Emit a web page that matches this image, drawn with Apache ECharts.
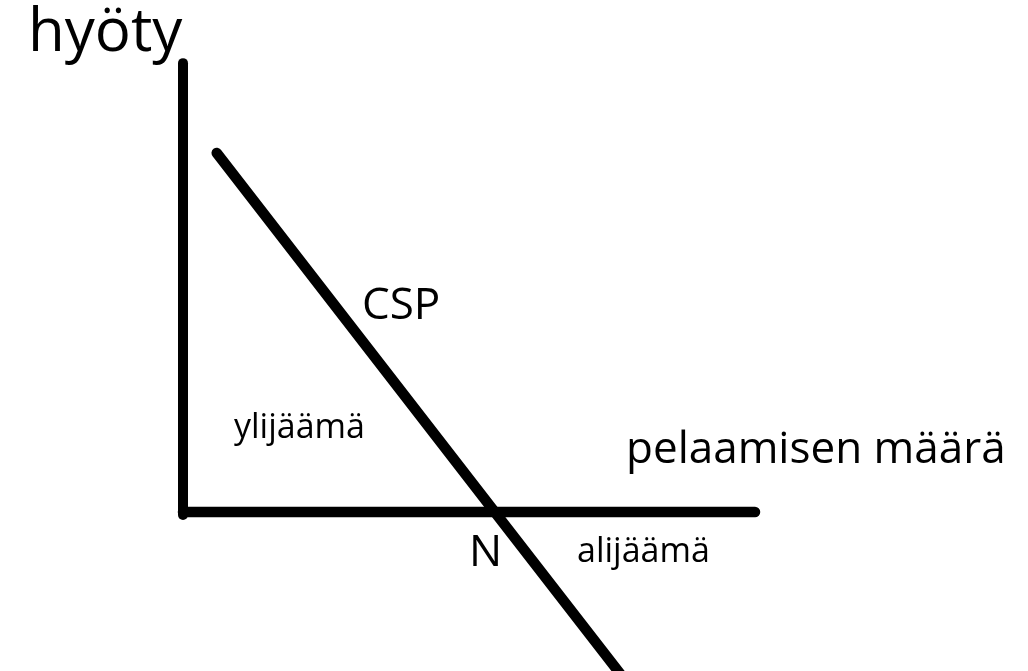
<!DOCTYPE html>
<html>
<head>
<meta charset="utf-8">
<script src="https://cdn.jsdelivr.net/npm/echarts@6/dist/echarts.min.js"></script>
<style>
html,body{margin:0;padding:0;background:#fff;}
#chart{width:1028px;height:671px;}
</style>
</head>
<body>
<div id="chart"></div>
<script>
// Diagram data (abstract units: quantity of gaming vs. utility)
const yAxisLineX = [0, 0];
const yAxisLineY = [7.85, -0.05];
const xAxisLineX = [0, 10];
const xAxisLineY = [0, 0];
const cspX = [0.59, 5.45, 7.66];
const cspY = [6.28, 0, -2.85];
const labels = ['hyöty', 'pelaamisen määrä', 'CSP', 'ylijäämä', 'N', 'alijäämä'];

function pairs(xs, ys){ return xs.map((x,i)=>[x, ys[i]]); }

const chart = echarts.init(document.getElementById('chart'), null, {renderer:'canvas'});
const FONT = '"Open Sans", "Noto Sans", sans-serif';
const lineSeries = (data, w) => ({
  type:'line', data, symbol:'none', clip:false, silent:true, animation:false,
  lineStyle:{color:'#000', width:w, cap:'round', join:'round'}
});
chart.setOption({
  backgroundColor:'#fff',
  animation:false,
  grid:{left:183, right:273, top:58, bottom:0, containLabel:false},
  xAxis:{type:'value', min:0, max:10, show:false},
  yAxis:{type:'value', min:-2.78, max:7.94, show:false},
  series:[
    lineSeries(pairs(yAxisLineX, yAxisLineY), 10),
    lineSeries(pairs(xAxisLineX, xAxisLineY), 10.5),
    lineSeries(pairs(cspX, cspY), 10.5)
  ],
  graphic:[
    {type:'text', x:28, y:34, style:{text:labels[0], font:'60px '+FONT, fill:'#000', verticalAlign:'middle', align:'left'}},
    {type:'text', x:626, y:450, style:{text:labels[1], font:'44px '+FONT, fill:'#000', verticalAlign:'middle', align:'left'}},
    {type:'text', x:362, y:306, style:{text:labels[2], font:'44px '+FONT, fill:'#000', verticalAlign:'middle', align:'left'}},
    {type:'text', x:234, y:428, style:{text:labels[3], font:'34px '+FONT, fill:'#000', verticalAlign:'middle', align:'left'}},
    {type:'text', x:469, y:553, style:{text:labels[4], font:'44px '+FONT, fill:'#000', verticalAlign:'middle', align:'left'}},
    {type:'text', x:577, y:552, style:{text:labels[5], font:'34px '+FONT, fill:'#000', verticalAlign:'middle', align:'left'}}
  ]
});
</script>
</body>
</html>
